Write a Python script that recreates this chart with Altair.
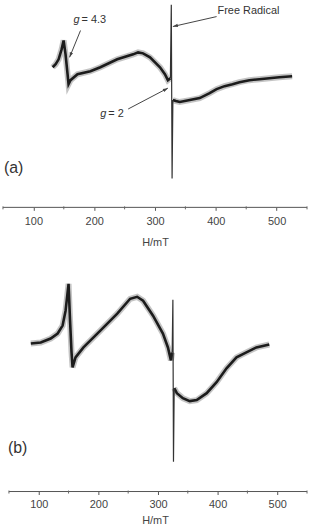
import altair as alt
import pandas as pd

FONT = "Liberation Sans"
INK = "#444444"

# ---------------- Panel (a) ----------------
a_field = [131.7, 136.6, 141.5, 146.4, 149.7, 152.9, 156.2, 157.8, 161.1, 172.5,
           193.8, 210.1, 237.9, 264.1, 272.2, 280.4, 291.8, 308.2, 316.3, 321.2,
           325.3,
           325.3, 326.8, 328.1, 329.4,
           329.4, 334.3, 340.8, 357.2, 373.5, 389.9, 401.3, 414.4, 427.5, 438.9,
           455.2, 471.6, 487.9, 504.2, 525.5]
a_signal = [41, 44, 49, 59, 68, 54, 34, 24, 28, 34,
            37, 41, 49, 54, 56, 55, 51, 41, 34, 28,
            30,
            30, 104, -71, 8,
            8, 7, 6, 8, 10, 15, 19, 22, 24, 26,
            28, 29, 30, 31, 32]
a_part = ["low"] * 21 + ["radical"] * 4 + ["high"] * 15

# annotations of panel (a)
a_note_text = ["g", "= 4.3", "Free Radical", "g", "= 2", "(a)"]
a_note_field = [170.9, 179.1, 402.9, 215.0, 223.2, 51.6]
a_note_signal = [89, 89, 98, -6, -6, -60]
a_note_kind = ["italic", "normal", "normal", "italic", "normal", "panel"]

a_arrow_from_field = [177.5, 401.3, 255.9]
a_arrow_from_signal = [78, 92, -1]
a_arrow_to_field = [159.5, 329.4, 321.2]
a_arrow_to_signal = [51, 82, 20]
a_arrow_angle = [202, 257, 62]

# ---------------- Panel (b) ----------------
b_field = [86.7, 103.3, 120.0, 131.7, 140.0, 145.0, 150.0, 152.5, 155.0, 156.7,
           161.7, 175.0, 203.3, 231.7, 253.3, 265.0, 275.0, 291.7, 308.3, 316.7,
           321.7, 323.8,
           323.8, 325.0, 326.0, 327.2,
           327.2, 331.7, 341.7, 353.3, 365.0, 381.7, 398.3, 415.0, 431.7, 448.3,
           465.0, 486.7]
b_signal = [34, 35, 39, 44, 52, 67, 94, 57, 25, 10,
            20, 30, 47, 64, 79, 81, 77, 62, 44, 30,
            17, 25,
            25, 78, -85, -11,
            -11, -16, -21, -24, -23, -16, -5, 9, 20, 25,
            30, 33]
b_part = ["low"] * 22 + ["radical"] * 4 + ["high"] * 12

b_note_text = ["(b)"]
b_note_field = [48.3]
b_note_signal = [-71]

major_ticks = [100, 200, 300, 400, 500]
minor_ticks = [50, 150, 250, 350, 450, 550]
axis_range = [50, 550]


def make_axis(label_pad, title_pad):
    return alt.Axis(
        values=major_ticks,
        format="d",
        tickSize=3,
        tickColor="#555555",
        domain=False,
        grid=False,
        title="H/mT",
        labelFont=FONT,
        titleFont=FONT,
        labelFontSize=11,
        titleFontSize=11,
        titleFontWeight="normal",
        labelColor=INK,
        titleColor=INK,
        labelPadding=label_pad,
        titlePadding=title_pad,
        labelOverlap=False,
    )


def trace_layers(df, xscale, yscale, axis):
    base = alt.Chart(df).encode(
        x=alt.X("H:Q", scale=xscale, axis=axis),
        y=alt.Y("I:Q", scale=yscale, axis=None),
        detail="part:N",
        order="i:Q",
    )
    halo = base.transform_filter("datum.part != 'radical'").mark_line(
        color="#8a8a8a", strokeWidth=6, opacity=0.5)
    core = base.transform_filter("datum.part != 'radical'").mark_line(
        color="#1c1c1c", strokeWidth=2.6)
    rad = base.transform_filter("datum.part == 'radical'").mark_line(
        color="#333333", strokeWidth=1.2)
    return [halo, core, rad]


def axis_layers(xscale, height):
    line = alt.Chart(pd.DataFrame({"a": [0]})).mark_rule(color="#555555", strokeWidth=1).encode(
        x=alt.datum(axis_range[0], scale=xscale), x2=alt.datum(axis_range[1]), y=alt.value(height))
    minor = alt.Chart(pd.DataFrame({"v": minor_ticks})).mark_rule(
        color="#666666", strokeWidth=1).encode(
        x=alt.X("v:Q", scale=xscale), y=alt.value(height - 1), y2=alt.value(height + 2))
    return [line, minor]


# ---- build panel (a)
HA = 206
xa = alt.Scale(domain=[50, 550], nice=False, zero=False)
ya = alt.Scale(domain=[-100, 106], nice=False, zero=False)
df_a = pd.DataFrame({"H": a_field, "I": a_signal, "part": a_part, "i": range(len(a_field))})
notes_a = pd.DataFrame({"t": a_note_text, "H": a_note_field, "I": a_note_signal, "k": a_note_kind})
arrows_a = pd.DataFrame({"H0": a_arrow_from_field, "I0": a_arrow_from_signal,
                         "H1": a_arrow_to_field, "I1": a_arrow_to_signal, "ang": a_arrow_angle})

layers_a = trace_layers(df_a, xa, ya, make_axis(5, 10))

nb = alt.Chart(notes_a).encode(
    x=alt.X("H:Q", scale=xa), y=alt.Y("I:Q", scale=ya), text="t:N")
italic = nb.transform_filter("datum.k == 'italic'").mark_text(
    font=FONT, fontSize=11, fontStyle="italic", color="#333333", align="center", baseline="middle")
normal = nb.transform_filter("datum.k == 'normal'").mark_text(
    font=FONT, fontSize=11, color="#333333", align="left", baseline="middle")
panel_a_lbl = nb.transform_filter("datum.k == 'panel'").mark_text(
    font=FONT, fontSize=16, color="#333333", align="left", baseline="middle")

shafts = alt.Chart(arrows_a).mark_rule(color=INK, strokeWidth=1).encode(
    x=alt.X("H0:Q", scale=xa), x2="H1:Q", y=alt.Y("I0:Q", scale=ya), y2="I1:Q")
heads = alt.Chart(arrows_a).mark_point(
    shape="M0,0L-0.45,1.3L0.45,1.3Z", filled=True, size=60, color=INK, opacity=1).encode(
    x=alt.X("H1:Q", scale=xa), y=alt.Y("I1:Q", scale=ya), angle=alt.Angle("ang:Q", scale=None))

chart_a = alt.layer(*layers_a, *axis_layers(xa, HA), shafts, heads, italic, normal,
                    panel_a_lbl).properties(width=306, height=HA)

# ---- build panel (b)
HB = 230
xb = alt.Scale(domain=[40, 550], nice=False, zero=False)
yb = alt.Scale(domain=[-115, 115], nice=False, zero=False)
df_b = pd.DataFrame({"H": b_field, "I": b_signal, "part": b_part, "i": range(len(b_field))})
notes_b = pd.DataFrame({"t": b_note_text, "H": b_note_field, "I": b_note_signal})

layers_b = trace_layers(df_b, xb, yb, make_axis(4, 5))
panel_b_lbl = alt.Chart(notes_b).mark_text(
    font=FONT, fontSize=16, color="#333333", align="left", baseline="middle").encode(
    x=alt.X("H:Q", scale=xb), y=alt.Y("I:Q", scale=yb), text="t:N")

chart_b = alt.layer(*layers_b, *axis_layers(xb, HB), panel_b_lbl).properties(
    width=306, height=HB)

chart = alt.vconcat(chart_a, chart_b, spacing=16).properties(
    padding={"left": 2, "right": 2, "top": 0, "bottom": 0}
).configure(font=FONT).configure_axis(labelColor=INK, titleColor=INK).configure_view(strokeWidth=0)

chart.save("out.html", embed_options={"renderer": "svg", "actions": False})
